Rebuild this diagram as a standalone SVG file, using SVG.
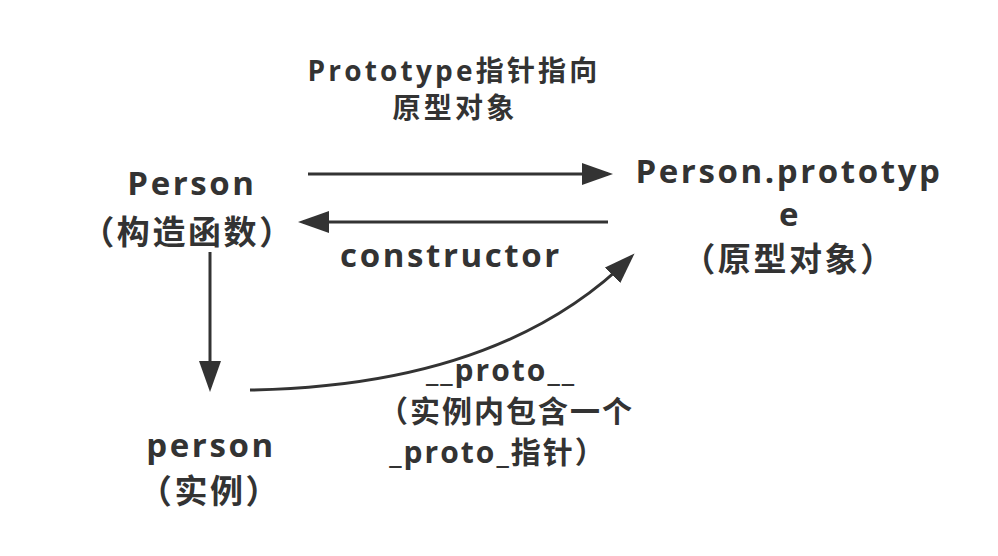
<svg xmlns="http://www.w3.org/2000/svg" width="998" height="556" viewBox="0 0 998 556">
<defs>
<style>
text{font-family:"Open Sans","Noto Sans CJK SC",sans-serif;font-weight:bold;fill:#333;text-anchor:middle}
.l{font-size:33px;letter-spacing:2.6px}
.s{font-size:28px;letter-spacing:3.2px}
.m{font-size:30px;letter-spacing:2px}
.c{fill:none;stroke:#333;stroke-width:3}
</style>
<marker id="ah" markerUnits="userSpaceOnUse" markerWidth="34" markerHeight="24" refX="26" refY="11" orient="auto">
<path d="M0,0 L31,11 L0,22 z" fill="#333"/>
</marker>
</defs>
<rect width="998" height="556" fill="#fff"/>
<g id="connectors">
<path class="c" d="M308,174 L608,174" marker-end="url(#ah)"/>
<path class="c" d="M608,222 L303,222" marker-end="url(#ah)"/>
<path class="c" d="M210,252 L210,387" marker-end="url(#ah)"/>
<path class="c" d="M250,390 Q501,386 631,257" marker-end="url(#ah)"/>
</g>
<g id="label-prototype">
<text class="s" x="454" y="81">Prototype指针指向</text>
<text class="s" x="455" y="118">原型对象</text>
</g>
<g id="node-Person">
<text class="l" x="192" y="195">Person</text>
<text class="l" x="188" y="244">（构造函数）</text>
</g>
<g id="node-prototype">
<text class="l" x="789" y="183">Person.prototyp</text>
<text class="l" x="790" y="226">e</text>
<text class="l" x="789" y="271">（原型对象）</text>
</g>
<g id="label-constructor">
<text class="l" x="451" y="267">constructor</text>
</g>
<g id="node-person">
<text class="l" x="211" y="457">person</text>
<text class="l" x="210" y="503">（实例）</text>
</g>
<g id="label-proto">
<text class="m" x="501" y="381">__proto__</text>
<text class="m" x="506" y="422">（实例内包含一个</text>
<text class="m" x="498" y="463">_proto_指针）</text>
</g>
</svg>
